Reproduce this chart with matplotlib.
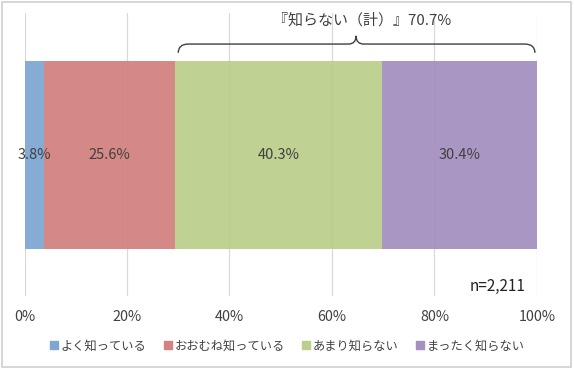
# -*- coding:utf-8 -*-
import matplotlib
matplotlib.use('Agg')
import matplotlib.pyplot as plt
from matplotlib.path import Path
from matplotlib.patches import PathPatch, Rectangle
from matplotlib.lines import Line2D

plt.rcParams['font.family'] = ['Noto Sans CJK JP', 'DejaVu Sans']

categories = ['よく知っている', 'おおむね知っている', 'あまり知らない', 'まったく知らない']
values = [3.8, 25.6, 40.3, 30.4]
colors = ['#7FA6D2', '#D38280', '#BBCF8C', '#A590C0']
brace_label = '『知らない（計）』70.7%'
n_label = 'n=2,211'
xticks = [0, 20, 40, 60, 80, 100]

fig = plt.figure(figsize=(5.74, 3.69), dpi=100)
ax = fig.add_axes([0.0427, 0.198, 0.8928, 0.767])

txt = '#404040'
for x in xticks:
    ax.axvline(x, color='#d9d9d9', lw=0.9, zorder=1)

left = 0
for v, c in zip(values, colors):
    ax.barh(0.498, v, left=left, height=0.664, color=c, alpha=0.94, zorder=2)
    ax.text(left + v / 2, 0.498, f'{v:.1f}%', ha='center', va='center',
            fontsize=10.5, color=txt, zorder=4)
    left += v

ax.set_xlim(0, 100)
ax.set_ylim(0, 1)
ax.set_xticks(xticks)
ax.set_xticklabels([f'{x}%' for x in xticks], fontsize=10.3, color=txt)
ax.tick_params(axis='x', length=0, pad=10)
ax.set_yticks([])
for s in ax.spines.values():
    s.set_visible(False)

# brace over the "not known" part
x0 = values[0] + values[1] + 0.6
x1 = 99.6
xm = (values[0] + values[1] + 100) / 2
yb, yh, yt = 0.859, 0.890, 0.919
verts = [(x0, yb), (x0, yh), (x0 + 2.0, yh),
         (xm - 1.5, yh), (xm, yh), (xm, yt),
         (xm, yh), (xm + 1.5, yh),
         (x1 - 2.0, yh), (x1, yh), (x1, yb)]
codes = [Path.MOVETO, Path.CURVE3, Path.CURVE3,
         Path.LINETO, Path.CURVE3, Path.CURVE3,
         Path.CURVE3, Path.CURVE3,
         Path.LINETO, Path.CURVE3, Path.CURVE3]
ax.add_patch(PathPatch(Path(verts, codes), fill=False, edgecolor=txt,
                       lw=1.0, zorder=5, clip_on=False))
ax.text(65.8, 0.973, brace_label, ha='center', va='center',
        fontsize=10.8, color=txt)
ax.text(92.4, 0.033, n_label, ha='center', va='center', fontsize=11,
        color='#222222')

handles = [Line2D([], [], marker='s', ls='', color=c, markersize=6)
           for c in colors]
fig.legend(handles, categories, loc='center', bbox_to_anchor=(0.5, 0.062),
           ncol=4, frameon=False, fontsize=8.8, handlelength=0.7,
           handletextpad=0.2, columnspacing=1.4, labelcolor=txt)

fig.add_artist(Rectangle((0.004, 0.006), 0.99, 0.988, transform=fig.transFigure,
                         fill=False, edgecolor='#d0d0d0', lw=1.2))

fig.savefig('out.png', dpi=100)
